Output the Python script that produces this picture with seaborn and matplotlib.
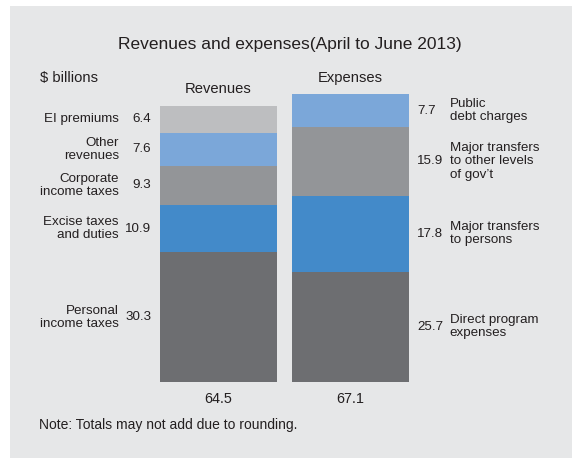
import matplotlib
matplotlib.use("Agg")
import matplotlib.pyplot as plt
import matplotlib.patches as mpatches
import seaborn as sns
import pandas as pd

sns.set_theme(style="white")
plt.rcParams["font.family"] = ["Liberation Sans", "DejaVu Sans"]

# Quarterly figures, $ billions (stacked bottom to top)
columns = ["Revenues", "Expenses"]
revenue_items = ["Personal\nincome taxes", "Excise taxes\nand duties", "Corporate\nincome taxes",
                 "Other\nrevenues", "EI premiums"]
revenue_values = [30.3, 10.9, 9.3, 7.6, 6.4]
expense_items = ["Direct program\nexpenses", "Major transfers\nto persons",
                 "Major transfers\nto other levels\nof gov\u2019t", "Public\ndebt charges"]
expense_values = [25.7, 17.8, 15.9, 7.7]
totals = ["64.5", "67.1"]

DARK = "#6d6e71"
BLUE = "#438ac9"
MID = "#939598"
LIGHTBLUE = "#7ba7d9"
LIGHT = "#bdbec0"
revenue_colors = [DARK, BLUE, MID, LIGHTBLUE, LIGHT]
expense_colors = [DARK, BLUE, MID, LIGHTBLUE]
TEXT = "#231f20"
PANEL = "#e6e7e8"

W, H = 572, 458
fig = plt.figure(figsize=(W / 100, H / 100), dpi=100, facecolor="white")
fig.patches.append(mpatches.Rectangle((10 / W, 0), 1 - 10 / W, 1 - 6 / H,
                                      transform=fig.transFigure, facecolor=PANEL,
                                      edgecolor="none", zorder=-10))

ax = fig.add_axes([152.5 / W, (H - 382) / H, 264 / W, 300 / H])
ax.set_facecolor("none")


def stack(column, values, colors):
    base = 0.0
    for v, c in zip(values, colors):
        df = pd.DataFrame({"col": [column], "val": [v]})
        sns.barplot(data=df, x="col", y="val", order=columns, color=c,
                    bottom=base, width=0.886, ax=ax, linewidth=0,
                    saturation=1, errorbar=None)
        base += v


stack("Revenues", revenue_values, revenue_colors)
stack("Expenses", expense_values, expense_colors)

ax.set_xlim(-0.5, 1.5)
ax.set_ylim(0, 70)
ax.axis("off")

lab_fs = 9.6
spacing = 1.12
# Revenue labels (left side)
base = 0.0
for name, v in zip(revenue_items, revenue_values):
    mid = base + v / 2
    ax.text(-0.508, mid, f"{v:.1f}", ha="right", va="center", fontsize=lab_fs, color=TEXT)
    ax.text(-0.754, mid, name, ha="right", va="center", fontsize=lab_fs, color=TEXT,
            linespacing=spacing, multialignment="right")
    base += v

# Expense labels (right side)
base = 0.0
for name, v in zip(expense_items, expense_values):
    mid = base + v / 2
    ax.text(1.504, mid, f"{v:.1f}", ha="left", va="center", fontsize=lab_fs, color=TEXT)
    ax.text(1.752, mid, name, ha="left", va="center", fontsize=lab_fs, color=TEXT,
            linespacing=spacing, multialignment="left")
    base += v

# Column headers and totals
ax.text(0, sum(revenue_values) + 3.9, "Revenues", ha="center", va="center",
        fontsize=10.6, color=TEXT)
ax.text(1, sum(expense_values) + 3.9, "Expenses", ha="center", va="center",
        fontsize=10.6, color=TEXT)
for i, t in enumerate(totals):
    ax.text(i, -4.0, t, ha="center", va="center", fontsize=10.4, color=TEXT)

fig.text(290 / W, 1 - 45 / H, "Revenues and expenses(April to June 2013)",
         ha="center", va="center", fontsize=12.5, color=TEXT)
fig.text(40 / W, 1 - 78 / H, "$ billions", ha="left", va="center",
         fontsize=10.6, color=TEXT)
fig.text(39 / W, 1 - 425 / H, "Note: Totals may not add due to rounding.",
         ha="left", va="center", fontsize=10, color=TEXT)

fig.savefig("out.png", dpi=100, facecolor="white")
